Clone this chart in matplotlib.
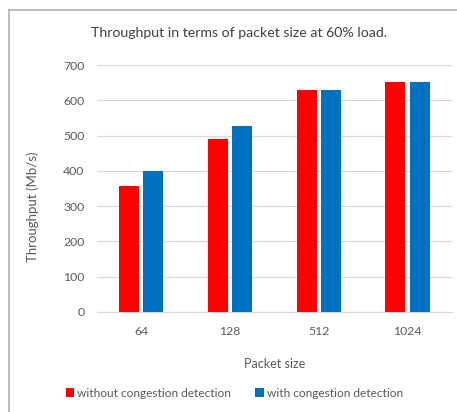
import matplotlib.pyplot as plt
import numpy as np
from matplotlib.lines import Line2D

packet_sizes = ["64", "128", "512", "1024"]
without_cd = [358, 490, 630, 651]
with_cd = [401, 528, 629, 653]

plt.rcParams["font.family"] = ["Lato", "DejaVu Sans"]
TXT = "#595959"

fig = plt.figure(figsize=(4.57, 4.12), dpi=100)
ax = fig.add_axes([0.212, 0.243, 0.777, 0.599])

x = np.arange(len(packet_sizes))
w = 0.225
ax.bar(x - w / 2 - 0.025, without_cd, w, color="#ff0000",
       label="without congestion detection", zorder=3)
ax.bar(x + w / 2 + 0.025, with_cd, w, color="#0070c0",
       label="with congestion detection", zorder=3)

ax.set_xlim(-0.5, len(packet_sizes) - 0.5)
ax.set_ylim(0, 700)
ax.set_yticks(range(0, 701, 100))
ax.set_xticks(x)
ax.set_xticklabels(packet_sizes)
ax.grid(axis="y", color="#d9d9d9", lw=0.9, zorder=0)
for s in ["top", "right", "left"]:
    ax.spines[s].set_visible(False)
ax.spines["bottom"].set_color("#d9d9d9")
ax.tick_params(length=0, labelsize=8.8, colors=TXT, pad=9)
ax.tick_params(axis="x", pad=10)

ax.set_xlabel("Packet size", fontsize=9, color=TXT, labelpad=15)
fig.text(33 / 457, 1 - 207 / 412, "Throughput (Mb/s)", rotation=90,
         ha="center", va="center", fontsize=9.5, color=TXT)
fig.text(0.524, 0.92, "Throughput in terms of packet size at 60% load.",
         ha="center", va="center", fontsize=10.2, color="#404040")

fig.legend(loc="center", bbox_to_anchor=(0.513, 0.046), ncol=2, frameon=False,
           fontsize=8.6, labelcolor=TXT, handlelength=0.7, handleheight=0.7,
           handletextpad=0.3, columnspacing=2.0)

# chart area frame (top and left edges)
fig.add_artist(Line2D([9 / 457, 9 / 457], [0, 1 - 10 / 412],
                      transform=fig.transFigure, color="#b0b0b0", lw=1.2))
fig.add_artist(Line2D([9 / 457, 1], [1 - 10 / 412, 1 - 10 / 412],
                      transform=fig.transFigure, color="#b0b0b0", lw=1.2))

fig.savefig("out.png", dpi=100)
